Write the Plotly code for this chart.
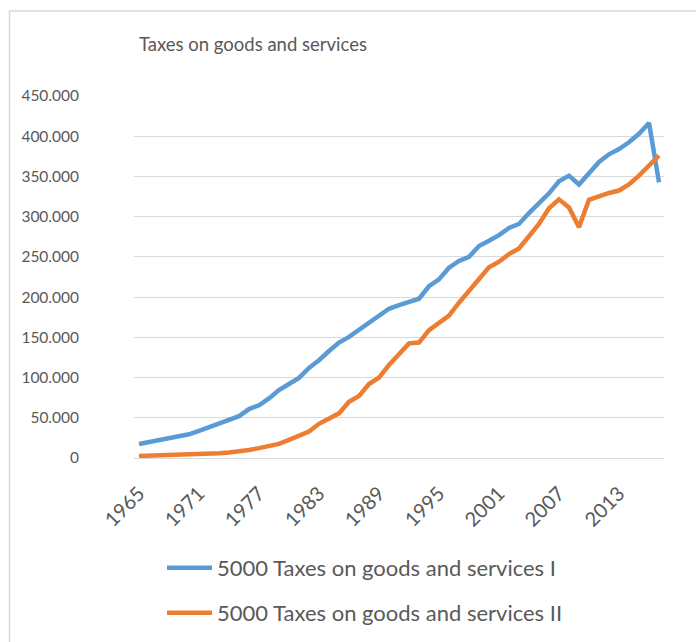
import plotly.graph_objects as go

# Revenue series, 1965-2017
years = list(range(1965, 2018))

taxes_I = [
    17500, 19800, 21900, 24000, 27400, 29500, 33800, 38000, 42300, 47200,
    52000, 60800, 65500, 74000, 84500, 92000, 99500, 112000, 121500, 133000,
    143500, 150500, 159500, 168000, 176000, 185500, 190000, 194500, 198000, 213500,
    222000, 236500, 245000, 250000, 263500, 270000, 277000, 286000, 291000, 304500,
    316500, 329000, 344000, 351000, 340000, 353000, 368000, 377500, 384000, 392500,
    403000, 416500, 342500,
]

taxes_II = [
    2500, 2800, 3000, 3300, 3600, 4000, 4500, 5200, 6000, 6800,
    7800, 10000, 12300, 14500, 17500, 22500, 27500, 33000, 42500, 49500,
    55500, 70000, 77000, 92000, 100000, 115500, 129000, 142500, 143500, 159000,
    168000, 177000, 193000, 208000, 223000, 237000, 244000, 253500, 260500, 275000,
    291000, 310500, 321500, 311500, 287000, 321000, 326000, 329500, 332500, 340000,
    351000, 364000, 376000,
]

series_names = [
    "5000 Taxes on goods and services I",
    "5000 Taxes on goods and services II",
]
title_text = "Taxes on goods and services"
x_ticks = list(range(1965, 2018, 6))
y_ticks = list(range(0, 450001, 50000))

BLUE = "#5B9BD5"
ORANGE = "#ED7D31"
TEXT = "#595959"
GRID = "#D9D9D9"
FONT = "Lato"

W, H = 696, 642
L, R, T, B = 134, 32, 96, 184

fig = go.Figure()
fig.add_trace(go.Scatter(
    x=years, y=taxes_I, mode="lines", name=series_names[0],
    line=dict(color=BLUE, width=4.5), legend="legend", showlegend=True,
))
fig.add_trace(go.Scatter(
    x=years, y=taxes_II, mode="lines", name=series_names[1],
    line=dict(color=ORANGE, width=4.5), legend="legend2", showlegend=True,
))

pw = W - L - R
ph = H - T - B


def px_x(x):
    return (x - L) / pw


def px_y(y):
    return (H - B - y) / ph


legend_common = dict(
    font=dict(family=FONT, size=22, color=TEXT),
    bgcolor="rgba(0,0,0,0)", xanchor="left", yanchor="middle",
    itemwidth=45,
)

fig.update_layout(
    width=W, height=H,
    margin=dict(l=L, r=R, t=T, b=B, pad=0, autoexpand=False),
    paper_bgcolor="white", plot_bgcolor="white",
    separators=",.",
    showlegend=True,
    font=dict(family=FONT, color=TEXT),
    title=dict(
        text=title_text, font=dict(family=FONT, size=18.5, color=TEXT),
        xref="paper", x=px_x(253), xanchor="center",
        yref="container", y=1 - 45 / H, yanchor="middle",
    ),
    xaxis=dict(
        range=[1964.5, 2017.5], tickvals=x_ticks, tickangle=-45,
        showgrid=False, zeroline=False, showline=False, ticks="",
        tickfont=dict(family=FONT, size=20, color=TEXT),
        ticklabelstandoff=19, automargin=False,
    ),
    yaxis=dict(
        range=[0, 450000], tickvals=y_ticks, tickformat=",d",
        showgrid=True, gridcolor=GRID, gridwidth=1.3,
        zeroline=True, zerolinecolor=GRID, zerolinewidth=1.3,
        showline=False, ticks="",
        tickfont=dict(family=FONT, size=15.5, color=TEXT),
        ticklabelstandoff=54, automargin=False,
    ),
    legend=dict(x=px_x(162), y=px_y(568), **legend_common),
    legend2=dict(x=px_x(162), y=px_y(613), **legend_common),
    shapes=[dict(
        type="rect", xref="paper", yref="paper",
        x0=px_x(9.5), x1=px_x(720), y0=px_y(680), y1=px_y(11),
        line=dict(color=GRID, width=1.5), fillcolor="rgba(0,0,0,0)",
        layer="below",
    )],
)

fig.write_html("out.html")
